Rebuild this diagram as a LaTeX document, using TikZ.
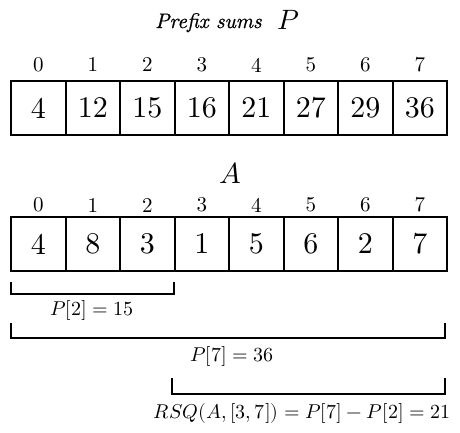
\documentclass[tikz,border=0pt]{standalone}
\usepackage{fontspec}
\usepackage{unicode-math}
\setmainfont{lmroman10-regular.otf}[ItalicFont=lmroman10-italic.otf]
\setmathfont{Latin Modern Math}
\newfontfamily\titlefont{lmroman10-italic.otf}[FakeBold=0.8]
\begin{document}
\begin{tikzpicture}[x=1pt,y=-1pt,
  cell/.style={draw,line width=2pt,minimum width=54.5pt,minimum height=54pt,inner sep=0pt,
    font=\fontsize{30}{32}\selectfont},
  idx/.style={inner sep=0pt,font=\fontsize{21}{24}\selectfont},
  lbl/.style={inner sep=0pt,font=\fontsize{20}{24}\selectfont},
  brk/.style={line width=1.8pt}]
\useasboundingbox (0,0) rectangle (460,432);
% title
\node[inner sep=0pt,anchor=base west,font=\fontsize{21}{26}\titlefont] (ttl) at (155,28) {Prefix sums};
\node[inner sep=0pt,anchor=base west,font=\fontsize{28}{32}\selectfont] (ttlP) at (277,29) {$P$};
% P array
\foreach \v [count=\i from 0] in {4,12,15,16,21,27,29,36}{
  \node[cell] (p\i) at ({11+27.25+54.5*\i},108) {\v};
  \node[idx] (pi\i) at ({11+27.25+54.5*\i},65) {\i};
}
% A label
\node[inner sep=0pt,font=\fontsize{29}{32}\selectfont] (alab) at (230,173) {$A$};
% A array
\foreach \v [count=\i from 0] in {4,8,3,1,5,6,2,7}{
  \node[cell] (a\i) at ({11+27.25+54.5*\i},244) {\v};
  \node[idx] (ai\i) at ({11+27.25+54.5*\i},205) {\i};
}
% brackets
\coordinate (b1a) at (11,282); \coordinate (b1b) at (174,282);
\draw[brk] (b1a) |- (92,294) -| (b1b);
\node[lbl] (l1) at (92,310) {$P[2]=15$};
\coordinate (b2a) at (11,323); \coordinate (b2b) at (445,323);
\draw[brk] (b2a) |- (228,338) -| (b2b);
\node[lbl] (l2) at (232,356) {$P[7]=36$};
\coordinate (b3a) at (172,378); \coordinate (b3b) at (445,378);
\draw[brk] (b3a) |- (308,394) -| (b3b);
\node[lbl] (l3) at (302,413) {$RSQ(A,[3,7])=P[7]-P[2]=21$};
\end{tikzpicture}
\end{document}
